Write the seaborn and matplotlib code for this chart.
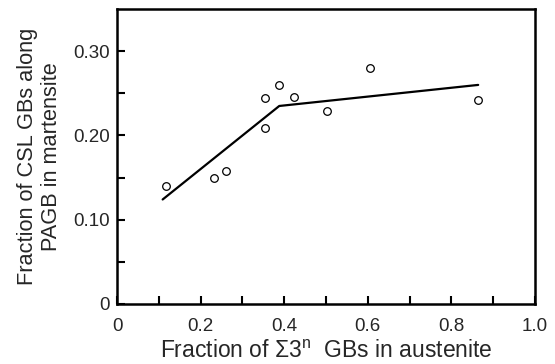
import matplotlib
matplotlib.use("Agg")
import matplotlib.pyplot as plt
import seaborn as sns
import pandas as pd

# Data
austenite_frac = [0.117, 0.232, 0.260, 0.355, 0.355, 0.388, 0.424, 0.502, 0.604, 0.864]
martensite_frac = [0.140, 0.150, 0.158, 0.245, 0.209, 0.260, 0.246, 0.229, 0.280, 0.242]
fit_x = [0.109, 0.388, 0.864]
fit_y = [0.124, 0.235, 0.260]
x_ticks = [0, 0.2, 0.4, 0.6, 0.8, 1.0]
x_ticklabels = ["0", "0.2", "0.4", "0.6", "0.8", "1.0"]
y_ticks = [0, 0.10, 0.20, 0.30]
y_ticklabels = ["0", "0.10", "0.20", "0.30"]

sns.set_style("white")
plt.rcParams['font.family'] = ['Liberation Sans', 'DejaVu Sans']
plt.rcParams['mathtext.fontset'] = 'custom'
plt.rcParams['mathtext.rm'] = 'Liberation Sans'

pts = pd.DataFrame({"x": austenite_frac, "y": martensite_frac})
fit = pd.DataFrame({"x": fit_x, "y": fit_y})

fig = plt.figure(figsize=(5.55, 3.64), dpi=100)
ax = fig.add_axes([0.211, 0.165, 0.753, 0.810])

sns.lineplot(data=fit, x="x", y="y", ax=ax, color="black", linewidth=1.6, sort=False)
sns.scatterplot(data=pts, x="x", y="y", ax=ax, s=30, facecolor="white",
                edgecolor="black", linewidth=0.9, zorder=3)

ax.set_xlim(0, 1.0)
ax.set_ylim(0, 0.35)
ax.set_xticks(x_ticks)
ax.set_xticklabels(x_ticklabels)
ax.set_xticks([0.1, 0.3, 0.5, 0.7, 0.9], minor=True)
ax.set_yticks(y_ticks)
ax.set_yticklabels(y_ticklabels)
ax.set_yticks([0.05, 0.15, 0.25], minor=True)
ax.tick_params(axis="both", which="both", direction="in", length=6, width=1.5,
               color="black", labelsize=13.5)
ax.tick_params(axis="x", which="major", pad=10)
ax.tick_params(axis="y", which="major", pad=5)
ax.tick_params(axis="both", which="both", bottom=True, left=True, top=False, right=False)

for sp in ax.spines.values():
    sp.set_linewidth(1.8)
    sp.set_color("black")

ax.set_xlabel(r"Fraction of $\Sigma$3$^{\rm n}$  GBs in austenite", fontsize=16.5, labelpad=4)
ax.set_ylabel("Fraction of CSL GBs along\nPAGB in martensite", fontsize=15.7, labelpad=8)

fig.savefig("out.png", dpi=100)
